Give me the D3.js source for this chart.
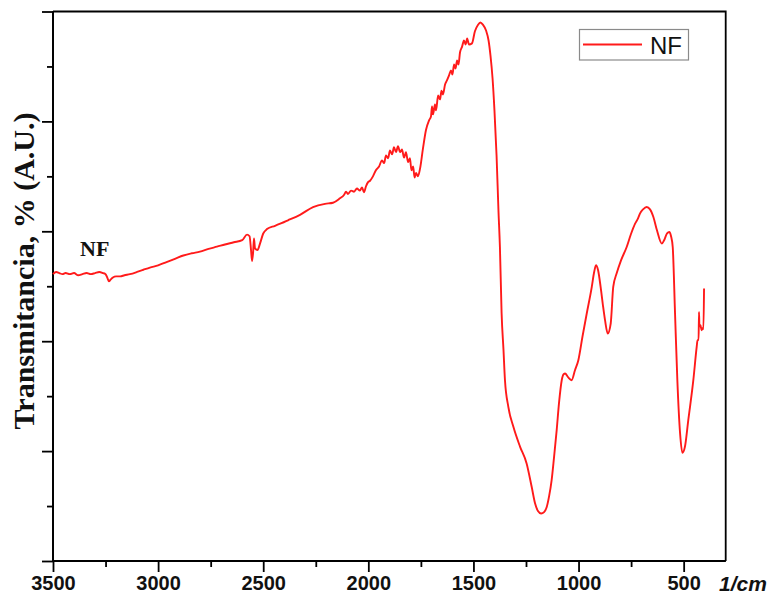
<!DOCTYPE html>
<html>
<head>
<meta charset="utf-8">
<script src="https://cdn.jsdelivr.net/npm/d3@7"></script>
<style>
  html, body { margin: 0; padding: 0; background: #fff; }
  svg { display: block; }
</style>
</head>
<body>
<svg id="chart" width="779" height="598"></svg>
<script>
// FTIR spectrum of sample NF: wavenumber (1/cm) and transmittance (arbitrary units)
const wavenumber = [
  3500, 3485, 3470, 3455, 3440, 3420, 3400, 3380, 3360, 3340, 3320, 3300, 3280, 3262, 3250,
  3240, 3234, 3226, 3215, 3200, 3181, 3160, 3134, 3100, 3070, 3039, 3000, 2960, 2920, 2880,
  2840, 2801, 2760, 2720, 2682, 2640, 2600, 2577, 2565, 2558, 2553, 2548, 2544, 2539, 2527,
  2515, 2500, 2482, 2444, 2382, 2325, 2263, 2206, 2168, 2135, 2116, 2106, 2097, 2082, 2068,
  2054, 2040, 2030, 2021, 2011, 2002, 1992, 1978, 1964, 1949, 1935, 1925, 1916, 1906, 1897,
  1887, 1878, 1868, 1859, 1849, 1840, 1830, 1821, 1811, 1802, 1795, 1787, 1780, 1773, 1764,
  1754, 1740, 1726, 1711, 1702, 1697, 1692, 1683, 1678, 1668, 1659, 1652, 1645, 1635, 1626,
  1616, 1607, 1600, 1592, 1585, 1578, 1571, 1564, 1554, 1545, 1537, 1530, 1521, 1507, 1493,
  1478, 1467, 1455, 1440, 1428, 1419, 1409, 1400, 1390, 1381, 1374, 1366, 1357, 1350, 1334,
  1310, 1278, 1247, 1223, 1207, 1193, 1178, 1164, 1151, 1140, 1128, 1117, 1104, 1093, 1080,
  1071, 1064, 1050, 1033, 1017, 1001, 981, 961, 937, 926, 917, 907, 895, 884, 874,
  861, 847, 835, 819, 798, 771, 751, 731, 717, 708, 693, 676, 660, 644, 627,
  604, 593, 579, 568, 560, 552, 541, 530, 517, 506, 494, 478, 454, 438, 434,
  429, 427, 425, 420, 415, 410, 406, 403
];
const transmittance = [
  2.61, 2.63, 2.62, 2.61, 2.62, 2.61, 2.62, 2.60, 2.61, 2.62, 2.61, 2.62, 2.63, 2.62, 2.61,
  2.57, 2.545, 2.56, 2.58, 2.59, 2.59, 2.60, 2.61, 2.63, 2.65, 2.67, 2.69, 2.72, 2.75, 2.78,
  2.80, 2.815, 2.84, 2.86, 2.88, 2.90, 2.92, 2.97, 2.955, 2.83, 2.73, 2.81, 2.935, 2.845, 2.83,
  2.89, 2.98, 3.02, 3.05, 3.10, 3.15, 3.22, 3.25, 3.26, 3.30, 3.33, 3.36, 3.34, 3.37, 3.36,
  3.39, 3.37, 3.40, 3.355, 3.41, 3.445, 3.46, 3.50, 3.555, 3.59, 3.645, 3.62, 3.69, 3.665, 3.735,
  3.70, 3.765, 3.72, 3.775, 3.72, 3.745, 3.67, 3.72, 3.63, 3.665, 3.555, 3.59, 3.49, 3.53, 3.50,
  3.57, 3.755, 3.92, 4.01, 4.045, 4.136, 4.064, 4.155, 4.10, 4.236, 4.20, 4.28, 4.245, 4.336, 4.373,
  4.418, 4.464, 4.427, 4.518, 4.482, 4.555, 4.518, 4.627, 4.68, 4.736, 4.70, 4.755, 4.70, 4.71, 4.82,
  4.88, 4.90, 4.88, 4.827, 4.736, 4.60, 4.39, 4.10, 3.69, 3.19, 2.855, 2.255, 1.92, 1.645, 1.403,
  1.221, 1.039, 0.888, 0.675, 0.525, 0.455, 0.432, 0.445, 0.494, 0.59, 0.736, 0.936, 1.191, 1.436, 1.645,
  1.70, 1.706, 1.673, 1.645, 1.736, 1.827, 2.045, 2.252, 2.494, 2.627, 2.691, 2.645, 2.494, 2.327, 2.191,
  2.07, 2.161, 2.494, 2.615, 2.736, 2.857, 2.973, 3.07, 3.118, 3.161, 3.20, 3.221, 3.20, 3.13, 3.009,
  2.888, 2.918, 2.982, 2.994, 2.955, 2.857, 2.252, 1.645, 1.161, 0.985, 1.039, 1.282, 1.645, 1.948, 2.01,
  2.01, 2.266, 2.136, 2.145, 2.10, 2.12, 2.11, 2.48
];
const seriesName = "NF";
const xMajorTicks = [3500, 3000, 2500, 2000, 1500, 1000, 500];
const xMinorTicks = [3250, 2750, 2250, 1750, 1250, 750];
const yMajorTicks = [0, 1, 2, 3, 4, 5];
const yMinorTicks = [0.5, 1.5, 2.5, 3.5, 4.5];
const xUnit = "1/cm";
const yTitle = "Transmitancia, % (A.U.)";

const points = wavenumber.map((w, i) => ({ w, t: transmittance[i] }));

const svg = d3.select("#chart");
const plotLeft = 53, plotRight = 725.7, plotTop = 11.5, plotBottom = 561;

const x = d3.scaleLinear().domain([3500, 300]).range([plotLeft, plotRight]);
const y = d3.scaleLinear().domain([0, 5]).range([plotBottom, plotTop]);

const axisStroke = 1.8;
const tickFont = "'Liberation Sans', Arial, sans-serif";

// Bottom axis: major ticks with labels, unlabelled minor ticks
const gx = svg.append("g").attr("transform", `translate(0,${plotBottom})`);
gx.call(d3.axisBottom(x).tickValues(xMajorTicks).tickSize(11).tickPadding(4).tickFormat(d3.format("d")));
gx.append("g").call(d3.axisBottom(x).tickValues(xMinorTicks).tickSize(6).tickFormat(""));
gx.selectAll("path.domain").attr("stroke-width", axisStroke).attr("d", `M${plotLeft},0H${plotRight}`);
gx.selectAll(".tick line").attr("stroke-width", axisStroke);
gx.selectAll(".tick text")
  .attr("fill", "#111")
  .style("font-family", tickFont)
  .style("font-weight", "bold")
  .style("font-size", "20px");

// Left axis: ticks only
const gy = svg.append("g").attr("transform", `translate(${plotLeft},0)`);
gy.call(d3.axisLeft(y).tickValues(yMajorTicks).tickSize(11).tickFormat(""));
gy.append("g").call(d3.axisLeft(y).tickValues(yMinorTicks).tickSize(6).tickFormat(""));
gy.selectAll("path.domain").attr("stroke-width", axisStroke).attr("d", `M0,${plotTop}V${plotBottom}`);
gy.selectAll(".tick line").attr("stroke-width", axisStroke);

// Top and right frame
svg.append("path")
  .attr("d", `M${plotLeft},${plotTop}H${plotRight}V${plotBottom}`)
  .attr("fill", "none")
  .attr("stroke", "#000")
  .attr("stroke-width", axisStroke);

// Spectrum line
const line = d3.line().x(d => x(d.w)).y(d => y(d.t)).curve(d3.curveMonotoneX);
svg.append("path")
  .datum(points)
  .attr("d", line)
  .attr("fill", "none")
  .attr("stroke", "#ff1a1a")
  .attr("stroke-width", 1.9)
  .attr("stroke-linejoin", "round");

// Axis unit label
svg.append("text")
  .attr("x", 719).attr("y", 591)
  .style("font-family", tickFont)
  .style("font-weight", "bold")
  .style("font-style", "italic")
  .style("font-size", "21px")
  .attr("fill", "#111")
  .text(xUnit);

// Y axis title
svg.append("text")
  .attr("transform", "translate(34,271) rotate(-90)")
  .attr("text-anchor", "middle")
  .style("font-family", "'Liberation Serif', 'Times New Roman', serif")
  .style("font-weight", "bold")
  .style("font-size", "30px")
  .attr("fill", "#111")
  .text(yTitle);

// Sample annotation inside the plot
svg.append("text")
  .attr("x", 80).attr("y", 255.5)
  .style("font-family", "'Liberation Serif', 'Times New Roman', serif")
  .style("font-weight", "bold")
  .style("font-size", "22px")
  .attr("fill", "#111")
  .text(seriesName);

// Legend
const lg = svg.append("g");
lg.append("rect")
  .attr("x", 579.5).attr("y", 29.5).attr("width", 109).attr("height", 30.5)
  .attr("fill", "#fff").attr("stroke", "#8a8a8a").attr("stroke-width", 1.2);
lg.append("line")
  .attr("x1", 583).attr("x2", 642).attr("y1", 44.5).attr("y2", 44.5)
  .attr("stroke", "#ff1a1a").attr("stroke-width", 2);
lg.append("text")
  .attr("x", 650).attr("y", 53.5)
  .style("font-family", tickFont)
  .style("font-size", "24px")
  .attr("fill", "#111")
  .text(seriesName);
</script>
</body>
</html>
